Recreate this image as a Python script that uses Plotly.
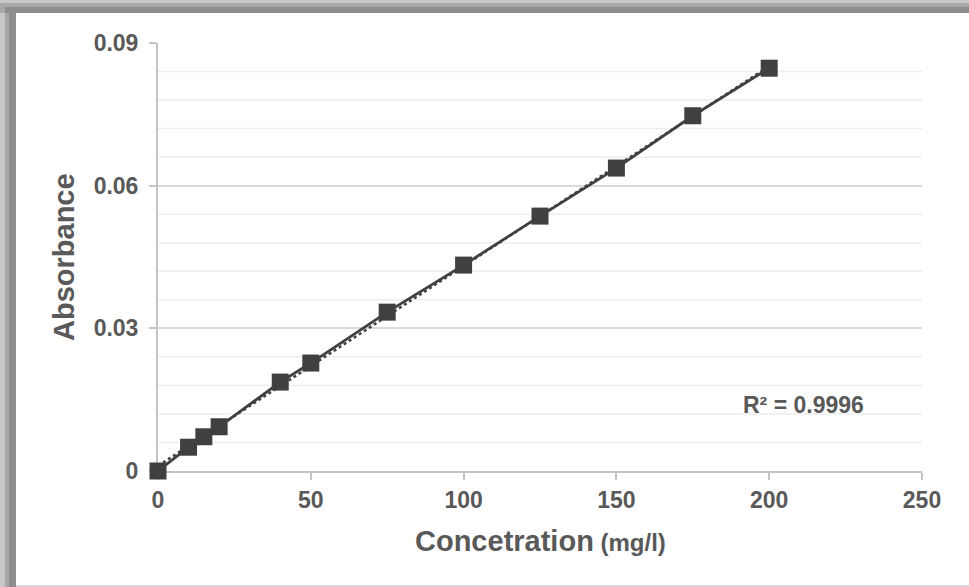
import numpy as np
import plotly.graph_objects as go

conc = [0, 10, 15, 20, 40, 50, 75, 100, 125, 150, 175, 200]
absorb = [0.0, 0.0050, 0.0072, 0.0093, 0.0187, 0.0227, 0.0334, 0.0433, 0.0536, 0.0637, 0.0747, 0.0847]
x_ticks = [0, 50, 100, 150, 200, 250]
y_ticks = [0, 0.03, 0.06, 0.09]
y_tick_text = ["0", "0.03", "0.06", "0.09"]
r2_text = "R² = 0.9996"

W, H = 969, 587
L, R, T, B = 158, 47, 43, 116
pw, ph = W - L - R, H - T - B

def px(x):
    return (x - L) / pw

def py(y):
    return (H - B - y) / ph

slope, intercept = np.polyfit(conc, absorb, 1)
fit_x = [0, 200]
fit_y = [intercept + slope * v for v in fit_x]

TXT = "#595959"
DARK = "#404040"
FONT = "Liberation Sans, Arial, sans-serif"

fig = go.Figure()
# minor gridlines
for g in np.arange(0.006, 0.09, 0.006):
    fig.add_shape(type="line", xref="paper", yref="y", x0=0, x1=1, y0=g, y1=g,
                  line=dict(color="#ededed", width=1.5), layer="below")

fig.add_trace(go.Scatter(x=fit_x, y=fit_y, mode="lines", cliponaxis=False,
                         line=dict(color=DARK, width=2.5, dash="dot"), showlegend=False))
fig.add_trace(go.Scatter(x=conc, y=absorb, mode="lines+markers", cliponaxis=False,
                         line=dict(color=DARK, width=2.8),
                         marker=dict(symbol="square", size=17, color=DARK),
                         showlegend=False))

# frame shadow
shadow = [
    (0, 0, 16, H, "#c8c8c8"), (5, 0, 16, H, "#a8a8a8"), (9, 0, 16, H, "#8e8e8e"),
    (0, 0, W, 13, "#c8c8c8"), (0, 3, W, 13, "#a8a8a8"), (5, 7, W, 13, "#8e8e8e"),
    (16, 585, W, H, "#d8d8d8"),
]
for x0, y0, x1, y1, c in shadow:
    fig.add_shape(type="rect", xref="paper", yref="paper",
                  x0=px(x0), x1=px(x1), y0=py(y1), y1=py(y0),
                  fillcolor=c, line=dict(width=0), layer="below")
# keep right edge white below the top band
fig.add_shape(type="rect", xref="paper", yref="paper",
              x0=px(955), x1=px(W + 5), y0=py(585), y1=py(13),
              fillcolor="white", line=dict(width=0), layer="above")

fig.add_annotation(x=px(866), y=py(405), xref="paper", yref="paper", text="<b>" + r2_text + "</b>",
                   showarrow=False, font=dict(size=23, color=TXT, family=FONT),
                   xanchor="right", yanchor="middle")

fig.add_annotation(x=px(540), y=py(541), xref="paper", yref="paper",
                   text="<b>Concetration</b><b><span style='font-size:24px'> (mg/l)</span></b>",
                   showarrow=False, font=dict(size=29, color=TXT, family=FONT),
                   xanchor="center", yanchor="middle")
fig.add_annotation(x=px(64), y=py(257), xref="paper", yref="paper",
                   text="<b>Absorbance</b>", textangle=-90,
                   showarrow=False, font=dict(size=29, color=TXT, family=FONT),
                   xanchor="center", yanchor="middle")

fig.update_layout(
    width=W, height=H,
    margin=dict(l=L, r=R, t=T, b=B),
    paper_bgcolor="white", plot_bgcolor="white",
    font=dict(family=FONT, color=TXT),
    xaxis=dict(range=[0, 250], tickvals=x_ticks, ticktext=["<b>%d</b>" % v for v in x_ticks],
               showgrid=False, zeroline=False, layer="below traces",
               showline=True, linecolor="#c4c4c4", linewidth=2,
               ticks="outside", ticklen=7, tickcolor="#c4c4c4", tickwidth=2,
               tickfont=dict(size=23, color=TXT, family=FONT)),
    yaxis=dict(range=[0, 0.09], tickvals=y_ticks, ticktext=["<b>%s</b>" % t for t in y_tick_text],
               showgrid=True, gridcolor="#dadada", gridwidth=2, zeroline=False, layer="below traces",
               showline=True, linecolor="#c4c4c4", linewidth=2,
               ticks="outside", ticklen=7, tickcolor="#c4c4c4", tickwidth=2, ticklabelstandoff=6,
               tickfont=dict(size=23, color=TXT, family=FONT)),
)

fig.write_html("out.html")
